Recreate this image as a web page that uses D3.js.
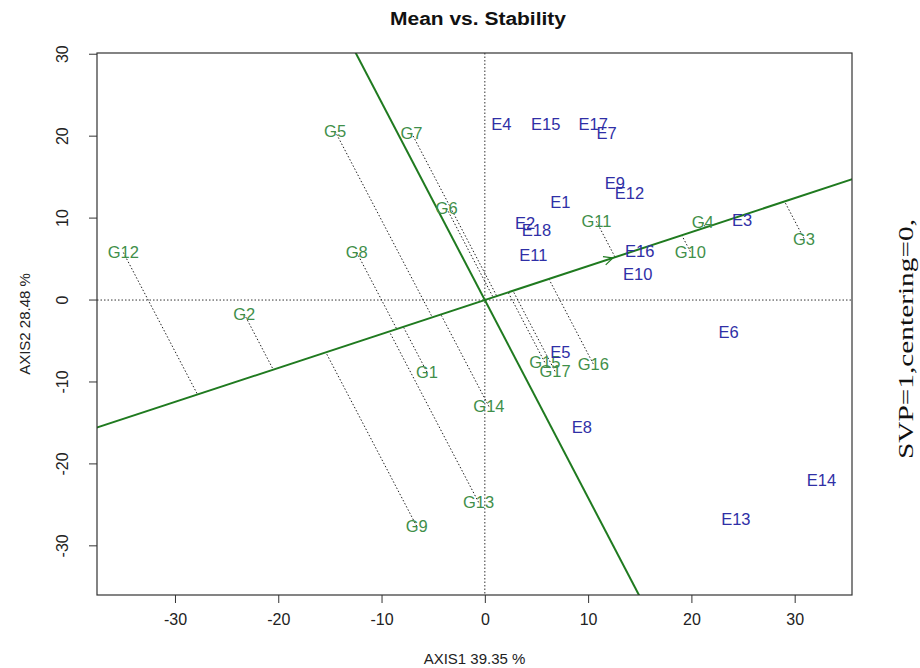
<!DOCTYPE html>
<html lang="en">
<head>
<meta charset="UTF-8">
<title>Mean vs. Stability</title>
<script src="https://d3js.org/d3.v7.min.js"></script>
<style>
  body { margin: 0; background: #fff; }
  text { font-family: "Liberation Sans", Arial, sans-serif; }
</style>
</head>
<body>
<div id="chart"></div>
<script>
// genotype scores (AXIS1, AXIS2)
const genotypes = ["G1","G2","G3","G4","G5","G6","G7","G8","G9","G10","G11","G12","G13","G14","G15","G16","G17"];
const genoX = [-5.6, -23.3, 30.9, 21.1, -14.5, -3.7, -7.1, -12.4, -6.6, 19.9, 10.8, -35.0, -0.6, 0.4, 5.8, 10.5, 6.8];
const genoY = [-8.8, -1.7, 7.5, 9.5, 20.6, 11.2, 20.4, 5.8, -27.6, 5.9, 9.6, 5.8, -24.7, -13.0, -7.6, -7.8, -8.7];

// environment scores
const environments = ["E1","E2","E3","E4","E5","E6","E7","E8","E9","E10","E11","E12","E13","E14","E15","E16","E17","E18"];
const envX = [7.3, 3.9, 24.9, 1.6, 7.3, 23.6, 11.8, 9.4, 12.6, 14.8, 4.7, 14.0, 24.3, 32.6, 5.9, 15.0, 10.5, 5.0];
const envY = [12.0, 9.4, 9.8, 21.5, -6.4, -3.9, 20.4, -15.5, 14.3, 3.2, 5.5, 13.1, -26.7, -22.0, 21.5, 6.0, 21.5, 8.5];

// average environment coordinate (defines the ATC)
const meanEnv = [12.4, 5.14];

const xTicks = [-30, -20, -10, 0, 10, 20, 30];
const yTicks = [-30, -20, -10, 0, 10, 20, 30];

const width = 920, height = 668;
const plot = { left: 97, right: 852, top: 53, bottom: 595 };

const svg = d3.select("#chart").append("svg")
  .attr("width", width).attr("height", height);

const x = d3.scaleLinear().domain([-37.55, 35.55]).range([plot.left, plot.right]);
const y = d3.scaleLinear().domain([-36.0, 30.15]).range([plot.bottom, plot.top]);

svg.append("clipPath").attr("id", "clip")
  .append("rect")
  .attr("x", plot.left).attr("y", plot.top)
  .attr("width", plot.right - plot.left).attr("height", plot.bottom - plot.top);

const g = svg.append("g").attr("clip-path", "url(#clip)");

// reference lines at 0
g.append("line")
  .attr("x1", x(0)).attr("x2", x(0)).attr("y1", plot.top).attr("y2", plot.bottom)
  .attr("stroke", "#333").attr("stroke-dasharray", "1.5,2");
g.append("line")
  .attr("x1", plot.left).attr("x2", plot.right).attr("y1", y(0)).attr("y2", y(0))
  .attr("stroke", "#333").attr("stroke-dasharray", "1.5,2");

// ATC abscissa direction
const len = Math.hypot(meanEnv[0], meanEnv[1]);
const ux = meanEnv[0] / len, uy = meanEnv[1] / len;
const big = 200;

// projection lines from genotypes to the ATC
genotypes.forEach((name, i) => {
  const d = genoX[i] * ux + genoY[i] * uy;
  g.append("line")
    .attr("x1", x(genoX[i])).attr("y1", y(genoY[i]))
    .attr("x2", x(d * ux)).attr("y2", y(d * uy))
    .attr("stroke", "#222").attr("stroke-width", 1)
    .attr("stroke-dasharray", "1.5,2");
});

const green = "#1f7a1f";
// ATC abscissa
g.append("line")
  .attr("x1", x(-big * ux)).attr("y1", y(-big * uy))
  .attr("x2", x(big * ux)).attr("y2", y(big * uy))
  .attr("stroke", green).attr("stroke-width", 2);
// ATC ordinate
g.append("line")
  .attr("x1", x(-big * uy)).attr("y1", y(big * ux))
  .attr("x2", x(big * uy)).attr("y2", y(-big * ux))
  .attr("stroke", green).attr("stroke-width", 2);

// arrow to average environment
const ax = x(meanEnv[0]), ay = y(meanEnv[1]);
const ang = Math.atan2(ay - y(0), ax - x(0));
const ah = 10, aw = 0.45;
g.append("path")
  .attr("d", `M${ax - ah * Math.cos(ang - aw)},${ay - ah * Math.sin(ang - aw)} L${ax},${ay} L${ax - ah * Math.cos(ang + aw)},${ay - ah * Math.sin(ang + aw)}`)
  .attr("fill", "none").attr("stroke", green).attr("stroke-width", 1.2);

// genotype labels
g.selectAll("text.geno")
  .data(genotypes)
  .enter().append("text")
  .attr("class", "geno")
  .attr("x", (d, i) => x(genoX[i]))
  .attr("y", (d, i) => y(genoY[i]))
  .attr("dy", "0.36em")
  .attr("text-anchor", "middle")
  .attr("font-size", 16.5)
  .attr("fill", "#3f8f4a")
  .text(d => d);

// environment labels
g.selectAll("text.env")
  .data(environments)
  .enter().append("text")
  .attr("class", "env")
  .attr("x", (d, i) => x(envX[i]))
  .attr("y", (d, i) => y(envY[i]))
  .attr("dy", "0.36em")
  .attr("text-anchor", "middle")
  .attr("font-size", 16.5)
  .attr("fill", "#2f2fa6")
  .text(d => d);

// frame
svg.append("rect")
  .attr("x", plot.left).attr("y", plot.top)
  .attr("width", plot.right - plot.left).attr("height", plot.bottom - plot.top)
  .attr("fill", "none").attr("stroke", "#333").attr("stroke-width", 1.2);

// axes
const fmt = d => String(d);
const xAxis = svg.append("g")
  .attr("transform", `translate(0,${plot.bottom})`)
  .call(d3.axisBottom(x).tickValues(xTicks).tickFormat(fmt).tickSize(8).tickPadding(11));
xAxis.select(".domain").remove();
xAxis.selectAll("text").attr("font-size", 16).attr("fill", "#222")
  .style("font-family", "'Liberation Sans', Arial, sans-serif");
xAxis.selectAll("line").attr("stroke", "#333");

const yAxis = svg.append("g")
  .attr("transform", `translate(${plot.left},0)`)
  .call(d3.axisLeft(y).tickValues(yTicks).tickFormat(fmt).tickSize(8));
yAxis.select(".domain").remove();
yAxis.selectAll("line").attr("stroke", "#333");
yAxis.selectAll("text")
  .attr("x", 0).attr("dy", 0)
  .attr("transform", d => `translate(-29,${y(d)}) rotate(-90)`)
  .attr("y", 0)
  .attr("text-anchor", "middle")
  .attr("font-size", 16).attr("fill", "#222")
  .style("font-family", "'Liberation Sans', Arial, sans-serif");
yAxis.selectAll(".tick").attr("transform", null);
yAxis.selectAll(".tick line").attr("y1", d => y(d)).attr("y2", d => y(d));

// title and axis titles
svg.append("text")
  .attr("x", 478).attr("y", 25)
  .attr("text-anchor", "middle")
  .attr("font-size", 18).attr("font-weight", "bold").attr("fill", "#111")
  .attr("textLength", 176).attr("lengthAdjust", "spacingAndGlyphs")
  .text("Mean vs. Stability");

svg.append("text")
  .attr("x", (plot.left + plot.right) / 2).attr("y", 664)
  .attr("text-anchor", "middle")
  .attr("font-size", 15).attr("fill", "#222")
  .text("AXIS1 39.35 %");

svg.append("text")
  .attr("transform", `translate(30,${(plot.top + plot.bottom) / 2}) rotate(-90)`)
  .attr("text-anchor", "middle")
  .attr("font-size", 15).attr("fill", "#222")
  .text("AXIS2 28.48 %");

svg.append("text")
  .attr("transform", "translate(913,339) rotate(-90)")
  .attr("text-anchor", "middle")
  .attr("font-size", 22).attr("fill", "#111")
  .attr("textLength", 240).attr("lengthAdjust", "spacingAndGlyphs")
  .style("font-family", "'Liberation Serif', 'DejaVu Serif', serif")
  .text("SVP=1,centering=0,");
</script>
</body>
</html>
